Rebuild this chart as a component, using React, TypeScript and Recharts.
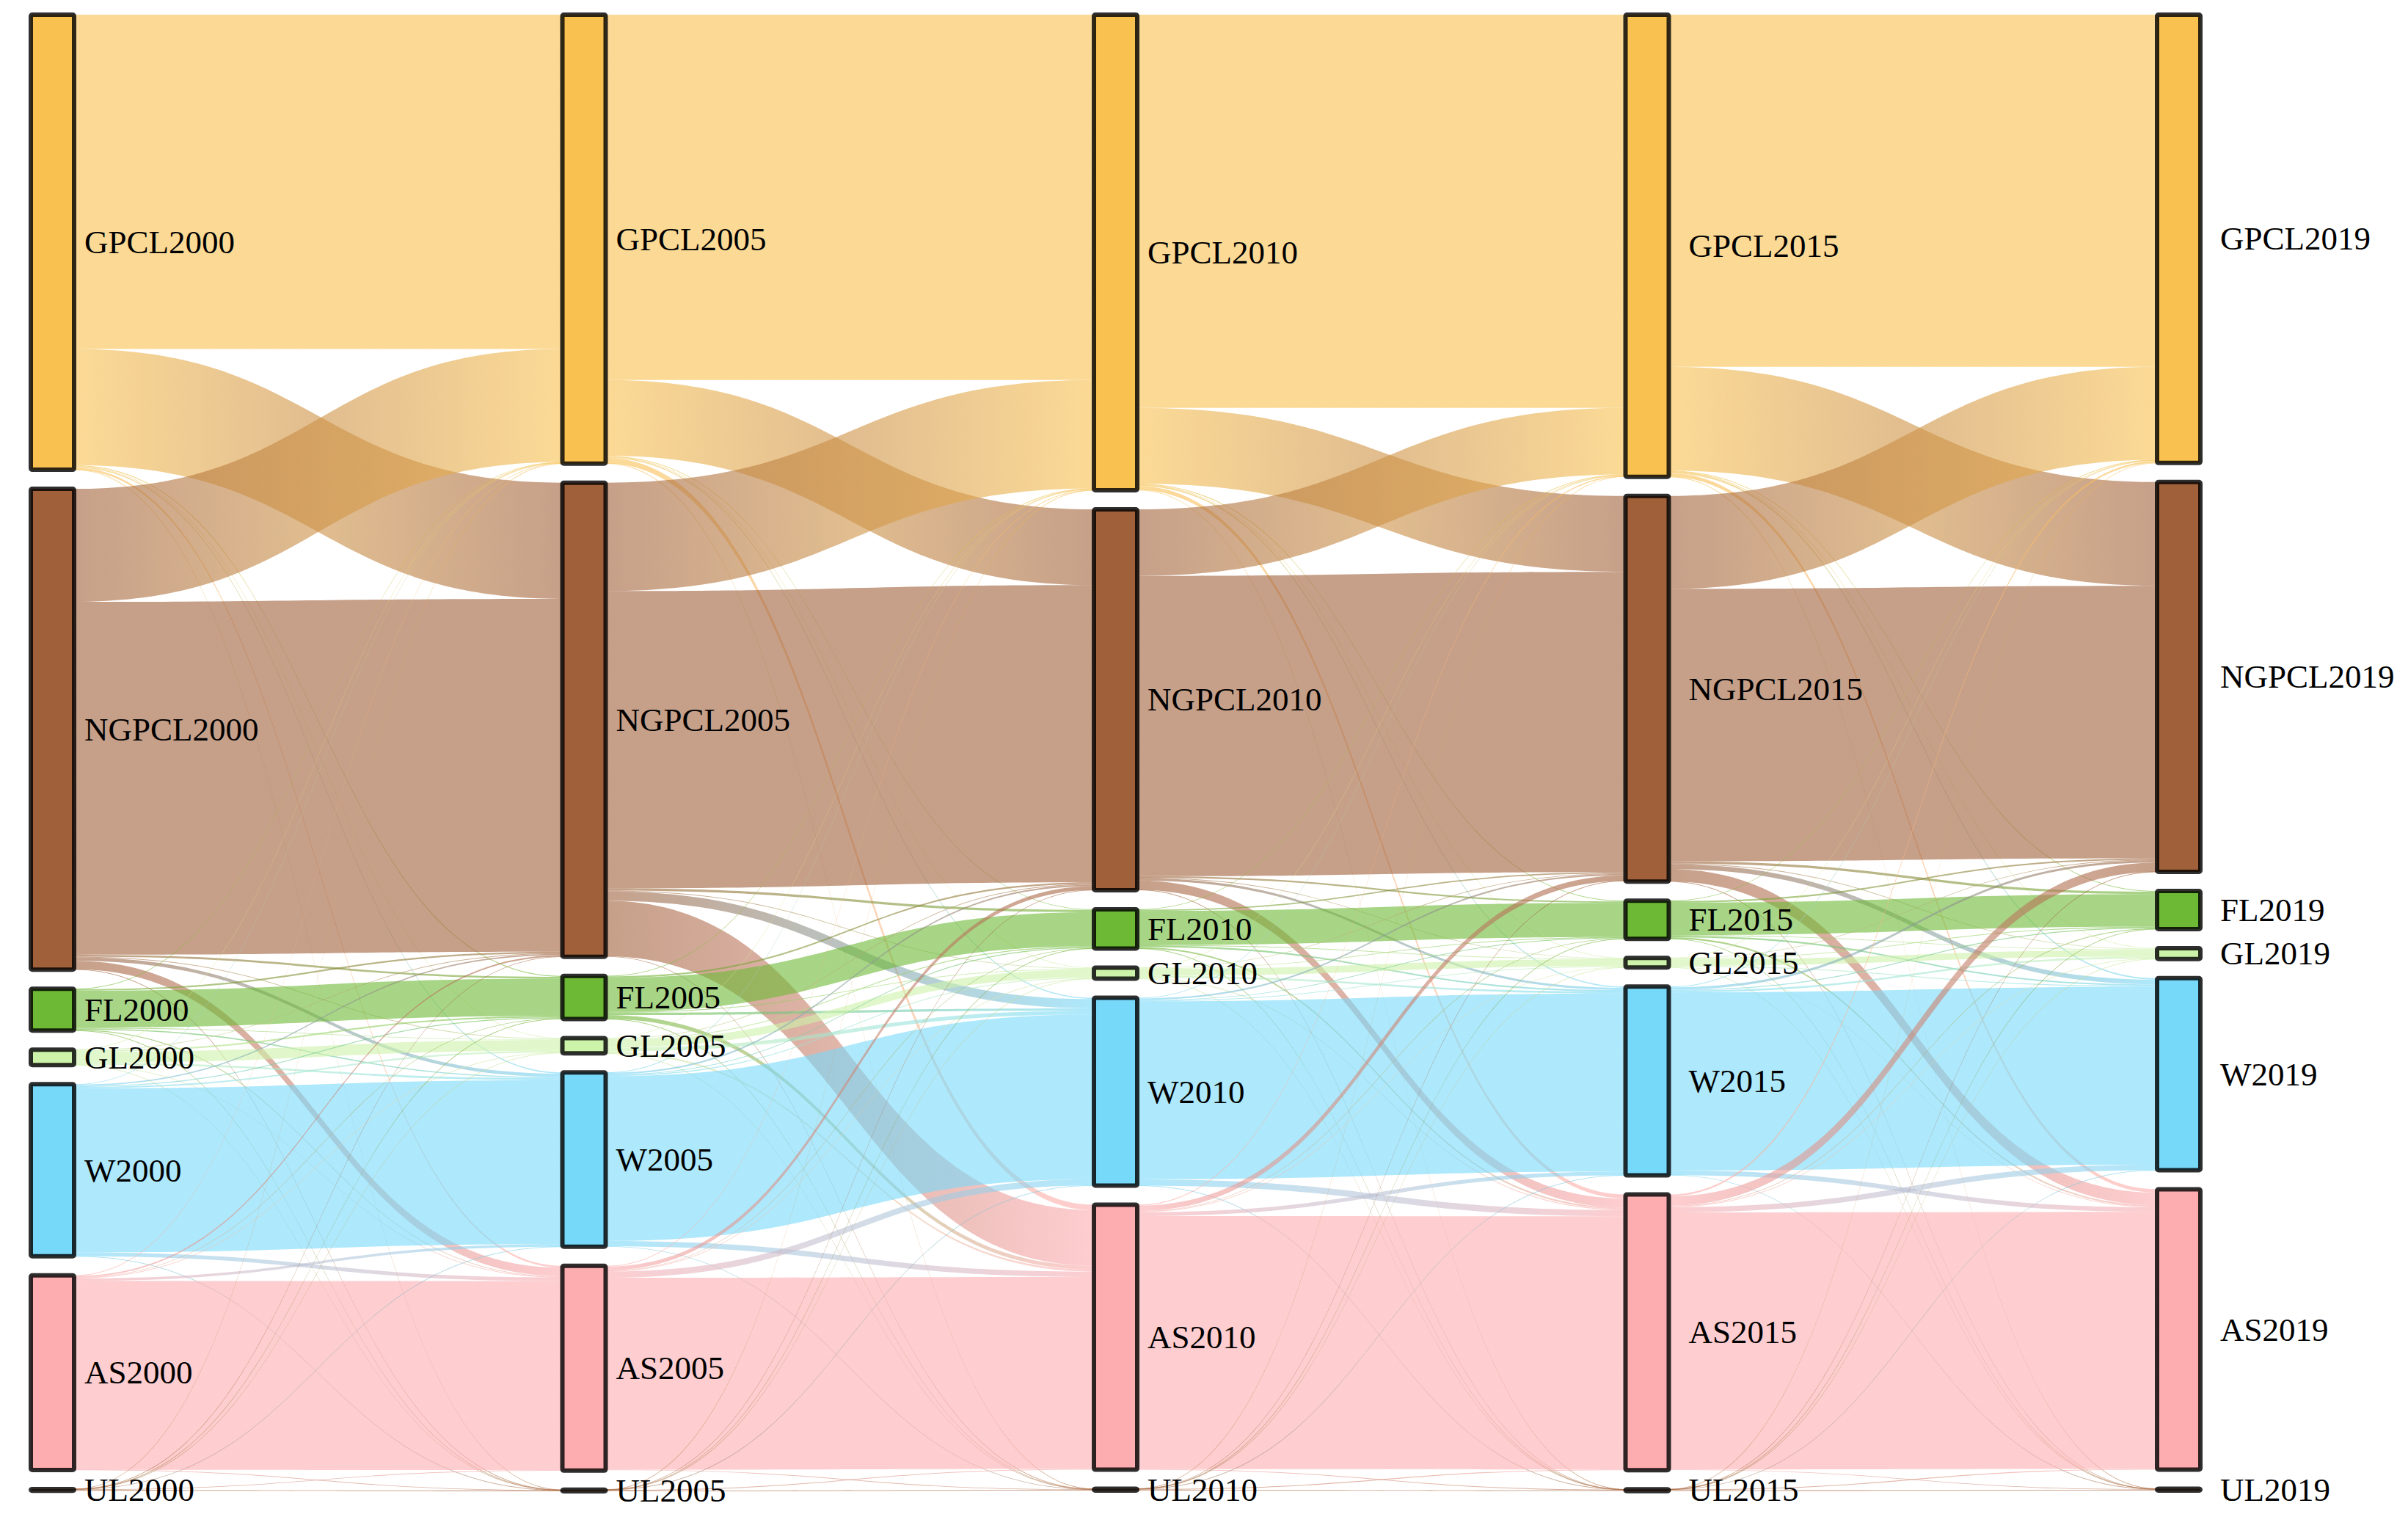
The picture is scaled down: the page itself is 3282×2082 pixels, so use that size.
import React from 'react';
import { Sankey } from 'recharts';

// land-use categories, same order top to bottom in every column
const categories = ['GPCL', 'NGPCL', 'FL', 'GL', 'W', 'AS', 'UL'];
const years = ['2000', '2005', '2010', '2015', '2019'];

// transfer matrices: rows = class in earlier year, cols = class in later year
const flows2000to2005 = [
  [216, 75, 0.6, 0.3, 0.8, 1.2, 0.1],
  [73, 228, 1.2, 0.5, 2.2, 5.5, 0.2],
  [0.3, 1.0, 24, 0.4, 0.8, 0.5, 0.02],
  [0.1, 0.4, 1.0, 7, 1.2, 0.3, 0.01],
  [0.3, 0.8, 0.6, 1.0, 106, 2.4, 0.05],
  [0.3, 1.0, 0.3, 0.4, 1.6, 122, 0.1],
  [0.02, 0.1, 0.01, 0.01, 0.05, 0.4, 0.5],
];

const flows2005to2010 = [
  [236, 49, 0.4, 0.2, 0.8, 3.5, 0.1],
  [70, 192, 1.5, 0.5, 6, 36, 0.2],
  [0.3, 1.0, 22, 0.5, 1.5, 2.5, 0.05],
  [0.1, 0.5, 0.6, 5, 2.4, 1.2, 0.02],
  [0.3, 1.0, 0.5, 0.6, 106.5, 3.5, 0.05],
  [0.5, 2.5, 0.4, 0.3, 4, 124, 0.3],
  [0.02, 0.05, 0.01, 0.01, 0.03, 0.5, 0.4],
];

const flows2010to2015 = [
  [254, 49, 0.5, 0.2, 0.8, 2.5, 0.1],
  [43, 194, 1.0, 0.3, 1.5, 6, 0.1],
  [0.3, 0.8, 22, 0.3, 1.0, 1.0, 0.02],
  [0.1, 0.3, 0.4, 4.5, 1.2, 0.6, 0.01],
  [0.4, 1.0, 0.4, 0.5, 115, 4, 0.05],
  [0.6, 3.5, 0.4, 0.3, 2.5, 163.5, 0.4],
  [0.02, 0.05, 0.01, 0.01, 0.02, 0.5, 0.5],
];

const flows2015to2019 = [
  [227.5, 67, 0.5, 0.3, 1.0, 2.2, 0.1],
  [60, 176, 1.5, 0.5, 3, 8, 0.1],
  [0.3, 1.0, 21, 0.4, 1.0, 1.0, 0.02],
  [0.1, 0.3, 0.5, 4.2, 0.6, 0.4, 0.01],
  [0.5, 1.5, 0.6, 1.2, 115, 3, 0.05],
  [1.2, 6, 0.5, 0.4, 3.5, 166, 0.4],
  [0.02, 0.05, 0.01, 0.01, 0.02, 0.5, 0.5],
];

const transitions = [flows2000to2005, flows2005to2010, flows2010to2015, flows2015to2019];

const catColors = ['#F9C14F', '#A0603A', '#6DB935', '#CDF2A9', '#77D9FA', '#FDACB0', '#B0704A'];
const labelGap = [14, 14, 14, 27, 27];

const nodes = years.flatMap((year, col) =>
  categories.map((cat, ci) => ({ name: cat + year, cat: ci, col }))
);

const links: { source: number; target: number; value: number }[] = [];
transitions.forEach((matrix, t) => {
  matrix.forEach((row, i) => {
    row.forEach((value, j) => {
      if (value > 0) {
        links.push({
          source: t * categories.length + i,
          target: (t + 1) * categories.length + j,
          value,
        });
      }
    });
  });
});

const FlowLink = (props: any) => {
  const { sourceX, targetX, sourceY, targetY, sourceControlX, targetControlX, linkWidth, index, payload } = props;
  const half = Math.max(linkWidth, 0.9) / 2;
  const from = catColors[payload.source.cat];
  const to = catColors[payload.target.cat];
  const id = `flow-grad-${index}`;
  const d = [
    `M${sourceX},${sourceY - half}`,
    `C${sourceControlX},${sourceY - half} ${targetControlX},${targetY - half} ${targetX},${targetY - half}`,
    `L${targetX},${targetY + half}`,
    `C${targetControlX},${targetY + half} ${sourceControlX},${sourceY + half} ${sourceX},${sourceY + half}`,
    'Z',
  ].join(' ');
  return (
    <g>
      <defs>
        <linearGradient id={id} gradientUnits="userSpaceOnUse" x1={sourceX} y1={0} x2={targetX} y2={0}>
          <stop offset="0%" stopColor={from} />
          <stop offset="100%" stopColor={to} />
        </linearGradient>
      </defs>
      <path d={d} fill={`url(#${id})`} fillOpacity={0.6} stroke="none" />
    </g>
  );
};

const LandNode = (props: any) => {
  const { x, y, width, height, payload } = props;
  return (
    <g>
      <rect
        x={x}
        y={y}
        width={width}
        height={height}
        rx={2}
        ry={2}
        fill={catColors[payload.cat]}
        stroke="#000"
        strokeOpacity={0.82}
        strokeWidth={6}
      />
      <text
        x={x + width + labelGap[payload.col]}
        y={y + height / 2}
        dominantBaseline="central"
        fontSize={45}
        fontFamily="'Liberation Serif', 'Times New Roman', serif"
        fill="#000"
      >
        {payload.name}
      </text>
    </g>
  );
};

export default function App() {
  return (
    <div style={{ position: 'absolute', left: 0, top: 0, width: 3282, height: 2082, background: '#fff' }}>
      <Sankey
        width={3282}
        height={2082}
        data={{ nodes, links }}
        nodeWidth={59}
        nodePadding={26}
        iterations={0}
        sort={false}
        linkCurvature={0.5}
        margin={{ top: 20, left: 42, right: 283, bottom: 50 }}
        node={LandNode}
        link={FlowLink}
      />
    </div>
  );
}
